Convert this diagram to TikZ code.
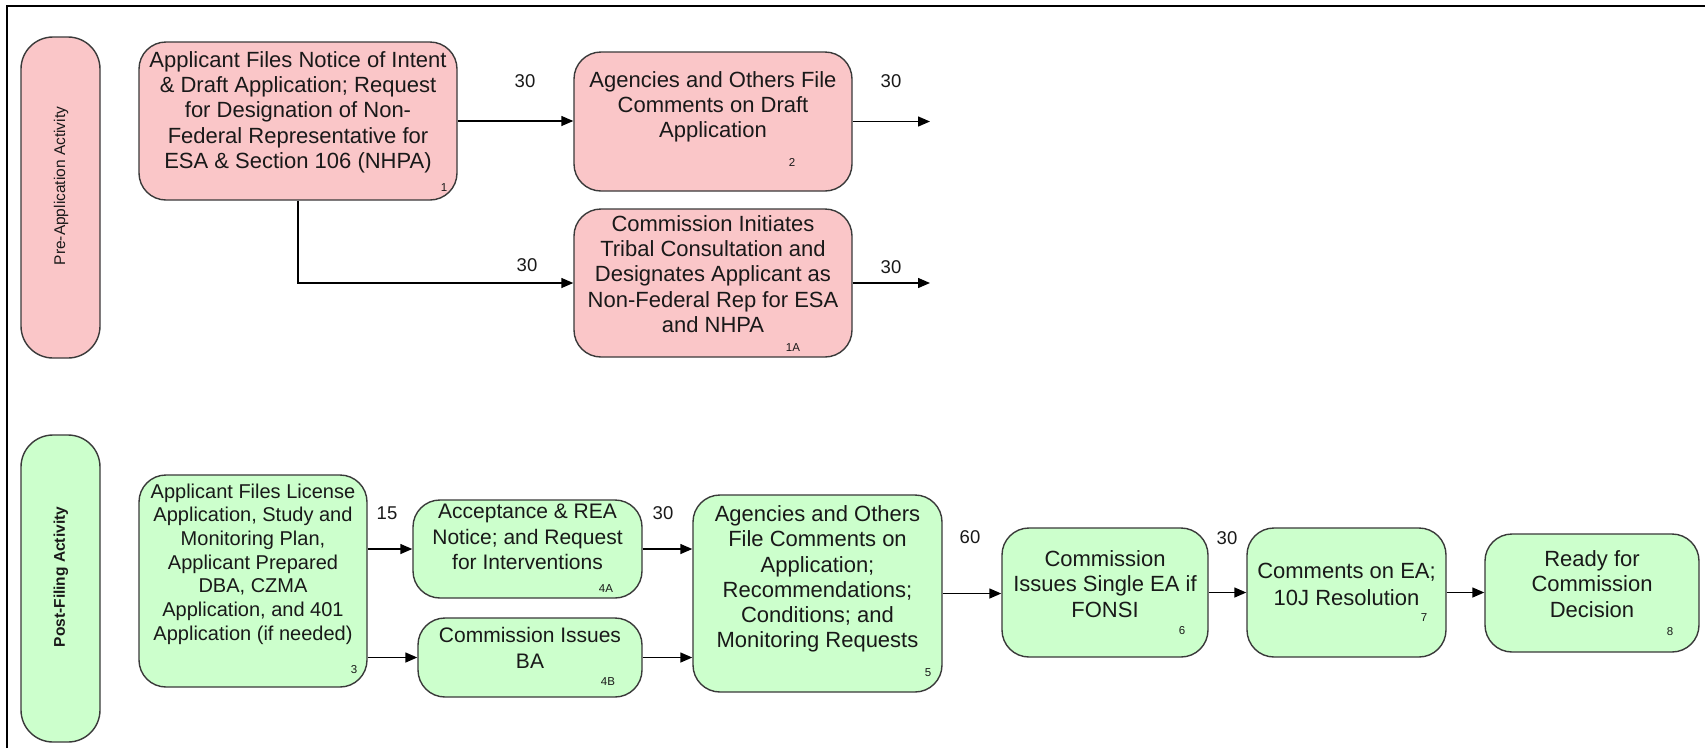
\documentclass[tikz,border=0pt]{standalone}
\usepackage{fontspec}
\setmainfont{Liberation Sans}
\usetikzlibrary{arrows.meta}
\definecolor{pinkfill}{RGB}{250,198,200}
\definecolor{greenfill}{RGB}{204,255,204}
\definecolor{edgegray}{RGB}{58,58,58}
\definecolor{txt}{RGB}{25,25,25}
\tikzset{
  pbox/.style={draw=edgegray, line width=1.4pt, fill=pinkfill, rounded corners=27pt, inner sep=0pt},
  gbox/.style={draw=edgegray, line width=1.4pt, fill=greenfill, rounded corners=27pt, inner sep=0pt},
  pill/.style={draw=edgegray, line width=1.4pt, rounded corners=32pt, inner sep=0pt},
  btext/.style={align=center, inner sep=0pt, text=txt, font=\fontsize{22}{25.3}\selectfont},
  numtext/.style={inner sep=0pt, text=txt, font=\fontsize{11.5}{13}\selectfont},
  daytext/.style={inner sep=0pt, text=txt, font=\fontsize{18.5}{21}\selectfont},
  arr/.style={draw=black, line width=1.4pt, -{Triangle[length=12pt,width=10pt]}},
  conn/.style={draw=black, line width=1.4pt},
}
\begin{document}
\begin{tikzpicture}[x=1pt,y=-1pt]
\useasboundingbox (0,0) rectangle (1705,748);
\fill[white] (0,0) rectangle (1705,748);
% frame (top and left)
\draw[line width=2.6pt, black] (7,748) -- (7,6) -- (1705,6);

% lane pills
\node[pill, fill=pinkfill, minimum width=79pt, minimum height=321pt] (lanepre) at (60.5,197.5) {};
\node[rotate=90, inner sep=0pt, text=txt, font=\fontsize{15.5}{18}\selectfont] (lanepret) at (61,186) {Pre-Application Activity};
\node[pill, fill=greenfill, minimum width=79pt, minimum height=307pt] (lanepost) at (60.5,588.5) {};
\node[rotate=90, inner sep=0pt, text=txt, font=\bfseries\fontsize{15.5}{18}\selectfont] (laneposttext) at (61,577) {Post-Filing Activity};

% pre-application boxes
\node[pbox, minimum width=318pt, minimum height=158pt] (b1) at (298,121) {};
\node[btext] (b1t) at (298,112) {Applicant Files Notice of Intent\\\& Draft Application; Request\\for Designation of Non-\\Federal Representative for\\ESA \& Section 106 (NHPA)};
\node[numtext] (b1n) at (444,188) {1};

\node[pbox, minimum width=278pt, minimum height=139pt] (b2) at (713,121.5) {};
\node[btext] (b2t) at (713,107) {Agencies and Others File\\Comments on Draft\\Application};
\node[numtext] (b2n) at (792,162) {2};

\node[pbox, minimum width=278pt, minimum height=148pt] (b1A) at (713,283) {};
\node[btext] (b1At) at (713,274) {Commission Initiates\\Tribal Consultation and\\Designates Applicant as\\Non-Federal Rep for ESA\\and NHPA};
\node[numtext] (b1An) at (793,348) {1A};

% post-filing boxes
\node[gbox, minimum width=228pt, minimum height=212pt] (b3) at (253,581) {};
\node[btext, font=\fontsize{20}{23.7}\selectfont] (b3t) at (253,564) {Applicant Files License\\Application, Study and\\Monitoring Plan,\\Applicant Prepared\\DBA, CZMA\\Application, and 401\\Application (if needed)};
\node[numtext] (b3n) at (354,670) {3};

\node[gbox, minimum width=229pt, minimum height=98pt] (b4A) at (527.5,549) {};
\node[btext, font=\fontsize{21}{25.5}\selectfont] (b4At) at (527.5,537) {Acceptance \& REA\\Notice; and Request\\for Interventions};
\node[numtext] (b4An) at (606,589) {4A};

\node[gbox, minimum width=224pt, minimum height=79pt] (b4B) at (530,657.5) {};
\node[btext, font=\fontsize{21}{26}\selectfont] (b4Bt) at (530,648) {Commission Issues\\BA};
\node[numtext] (b4Bn) at (608,682) {4B};

\node[gbox, minimum width=249pt, minimum height=197pt] (b5) at (817.5,593.5) {};
\node[btext] (b5t) at (817.5,579) {Agencies and Others\\File Comments on\\Application;\\Recommendations;\\Conditions; and\\Monitoring Requests};
\node[numtext] (b5n) at (928,673) {5};

\node[gbox, minimum width=206pt, minimum height=129pt] (b6) at (1105,592.5) {};
\node[btext] (b6t) at (1105,584) {Commission\\Issues Single EA if\\FONSI};
\node[numtext] (b6n) at (1182,631) {6};

\node[gbox, minimum width=199pt, minimum height=129pt] (b7) at (1346.5,592.5) {};
\node[btext, font=\fontsize{22}{27}\selectfont] (b7t) at (1346.5,584.5) {Comments on EA;\\10J Resolution};
\node[numtext] (b7n) at (1424,618) {7};

\node[gbox, minimum width=214pt, minimum height=118pt] (b8) at (1592,593) {};
\node[btext] (b8t) at (1592,584) {Ready for\\Commission\\Decision};
\node[numtext] (b8n) at (1670,632) {8};

% free ends
\coordinate (o2) at (930,121);
\coordinate (o1A) at (930,283);

% connectors
\draw[arr] (b1.east) -- (b2.west |- b1.east);
\draw[arr] (b2.east) -- (o2 |- b2.east);
\draw[arr] (b1.south) |- (b1A.west);
\draw[arr] (b1A.east) -- (o1A);
\draw[arr] (b3.east |- b4A.west) -- (b4A.west);
\draw[arr] (b3.east |- b4B.west) -- (b4B.west);
\draw[arr] (b4A.east) -- (b5.west |- b4A.east);
\draw[arr] (b4B.east) -- (b5.west |- b4B.east);
\draw[arr] (b5.east) -- (b6.west |- b5.east);
\draw[arr] (b6.east) -- (b7.west |- b6.east);
\draw[arr] (b7.east) -- (b8.west |- b7.east);

% day labels
\node[daytext] (d1) at (525,81) {30};
\node[daytext] (d2) at (891,81) {30};
\node[daytext] (d3) at (527,265) {30};
\node[daytext] (d4) at (891,267) {30};
\node[daytext] (d5) at (387,513) {15};
\node[daytext] (d6) at (663,513) {30};
\node[daytext] (d7) at (970,537) {60};
\node[daytext] (d8) at (1227,538) {30};
\end{tikzpicture}
\end{document}
